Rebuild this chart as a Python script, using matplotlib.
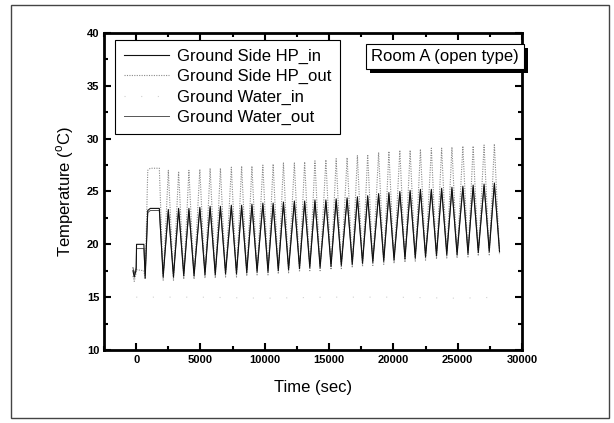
import matplotlib.pyplot as plt
import matplotlib.patheffects as pe
from matplotlib.patches import Rectangle
from matplotlib.ticker import MultipleLocator

plt.rcParams['font.family'] = ['Liberation Sans', 'DejaVu Sans']
plt.rcParams['mathtext.fontset'] = 'custom'
plt.rcParams['mathtext.rm'] = 'Liberation Sans'

# ---------------- data ----------------
# start-up segment (before the regular on/off cycling)
pre_t = [-250, -150, 0, 30, 600, 700, 900, 1100, 1800]
pre_hp_in = [17.5, 16.9, 17.6, 20.0, 20.0, 16.8, 23.2, 23.4, 23.4]
pre_hp_out = [17.0, 16.5, 17.3, 17.6, 17.5, 16.7, 27.0, 27.2, 27.2]
pre_gw_out = [17.8, 17.2, 17.8, 19.6, 19.6, 17.1, 23.0, 23.2, 23.2]

# cycle troughs / peaks
trough_t = [2100, 2900, 3700, 4500, 5350, 6150, 6950, 7800, 8600, 9400,
            10250, 11050, 11850, 12700, 13500, 14300, 15150, 15950, 16800,
            17600, 18400, 19250, 20050, 20900, 21700, 22500, 23350, 24150,
            24950, 25800, 26600, 27450, 28250]
peak_t = [2500, 3300, 4100, 4950, 5750, 6550, 7400, 8200, 9000, 9850,
          10650, 11450, 12300, 13100, 13900, 14750, 15550, 16400, 17200,
          18000, 18850, 19650, 20500, 21300, 22100, 22950, 23750, 24550,
          25400, 26200, 27050, 27850]

hp_in_trough = [16.9, 16.9, 17.0, 17.0, 17.1, 17.1, 17.2, 17.2, 17.3, 17.4,
                17.4, 17.5, 17.6, 17.7, 17.8, 17.8, 17.9, 18.0, 18.1, 18.2,
                18.3, 18.4, 18.5, 18.6, 18.7, 18.8, 18.9, 19.0, 19.0, 19.1,
                19.2, 19.3, 19.3]
hp_in_peak = [23.3, 23.4, 23.4, 23.5, 23.6, 23.6, 23.7, 23.7, 23.8, 23.9,
              23.9, 24.0, 24.1, 24.1, 24.2, 24.2, 24.3, 24.4, 24.5, 24.6,
              24.8, 24.9, 25.0, 25.1, 25.2, 25.2, 25.3, 25.4, 25.5, 25.6,
              25.7, 25.8]

hp_out_trough = [16.6, 16.6, 16.7, 16.7, 16.8, 16.8, 16.9, 16.9, 17.0, 17.1,
                 17.1, 17.2, 17.3, 17.4, 17.5, 17.5, 17.6, 17.7, 17.8, 17.9,
                 18.0, 18.1, 18.2, 18.3, 18.4, 18.5, 18.6, 18.7, 18.7, 18.8,
                 18.9, 19.0, 19.0]
hp_out_peak = [27.0, 26.9, 27.0, 27.1, 27.2, 27.2, 27.3, 27.4, 27.4, 27.5,
               27.6, 27.7, 27.7, 27.8, 27.9, 28.0, 28.1, 28.2, 28.4, 28.5,
               28.7, 28.8, 28.9, 28.9, 29.0, 29.1, 29.1, 29.2, 29.3, 29.3,
               29.4, 29.5]

gw_out_trough = [17.2, 17.2, 17.3, 17.3, 17.4, 17.4, 17.5, 17.5, 17.6, 17.7,
                 17.7, 17.8, 17.9, 18.0, 18.1, 18.1, 18.2, 18.3, 18.4, 18.5,
                 18.6, 18.7, 18.8, 18.9, 19.0, 19.1, 19.2, 19.3, 19.3, 19.4,
                 19.5, 19.6, 19.6]
gw_out_peak = [23.1, 23.2, 23.2, 23.3, 23.4, 23.4, 23.5, 23.5, 23.6, 23.7,
               23.7, 23.8, 23.9, 23.9, 24.0, 24.0, 24.1, 24.2, 24.3, 24.4,
               24.6, 24.7, 24.8, 24.9, 25.0, 25.0, 25.1, 25.2, 25.3, 25.4,
               25.5, 25.6]

gw_in_t = [0, 5000, 10000, 15000, 20000, 25000, 28500]
gw_in = [15.0, 15.0, 14.9, 15.0, 15.0, 14.9, 15.0]

labels = ["Ground Side HP_in", "Ground Side HP_out",
          "Ground Water_in", "Ground Water_out"]


def build(pre_y, troughs, peaks):
    xs = list(pre_t)
    ys = list(pre_y)
    for i in range(len(trough_t)):
        xs.append(trough_t[i])
        ys.append(troughs[i])
        if i < len(peak_t):
            xs.append(peak_t[i])
            ys.append(peaks[i])
    return xs, ys


# ---------------- figure ----------------
fig = plt.figure(figsize=(6.14, 4.23), dpi=100)
ax = fig.add_axes([0.1694, 0.1726, 0.6808, 0.7494])

# outer frame of the scanned figure
fig.patches.append(Rectangle((11 / 614, 5 / 423), 598 / 614, 413 / 423,
                             transform=fig.transFigure, fill=False,
                             edgecolor='#444444', linewidth=1.0))

x, y = build(pre_hp_out, hp_out_trough, hp_out_peak)
ax.plot(x, y, color='#8a8a8a', lw=0.8, linestyle=(0, (1, 1.2)), label=labels[1])
x, y = build(pre_gw_out, gw_out_trough, gw_out_peak)
ax.plot(x, y, color='#555555', lw=0.7, label=labels[3])
x, y = build(pre_hp_in, hp_in_trough, hp_in_peak)
ax.plot(x, y, color='#111111', lw=0.8, label=labels[0])
ax.plot(gw_in_t, gw_in, color='#d0d0d0', lw=0.8, linestyle=(0, (1, 14)),
        label=labels[2])

ax.set_xlim(-2500, 30000)
ax.set_ylim(10, 40)
ax.xaxis.set_major_locator(MultipleLocator(5000))
ax.xaxis.set_minor_locator(MultipleLocator(2500))
ax.yaxis.set_major_locator(MultipleLocator(5))
ax.yaxis.set_minor_locator(MultipleLocator(2.5))
ax.tick_params(which='both', direction='in', top=True, right=True, width=1.5)
ax.tick_params(which='major', length=5, labelsize=8)
ax.tick_params(which='minor', length=3)
for lab in ax.get_xticklabels() + ax.get_yticklabels():
    lab.set_fontweight('bold')
for s in ax.spines.values():
    s.set_linewidth(2)

ax.set_xlabel("Time (sec)", fontsize=12, labelpad=11)
ax.set_ylabel("Temperature ($^\\mathrm{o}$C)", fontsize=12, labelpad=8)

# legend in original order
h, l = ax.get_legend_handles_labels()
order = [l.index(n) for n in labels]
leg = ax.legend([h[i] for i in order], [l[i] for i in order],
                loc='upper left', bbox_to_anchor=(0.026, 0.978),
                borderaxespad=0, fontsize=12, handlelength=2.7,
                handletextpad=0.45, labelspacing=0.3, borderpad=0.55,
                fancybox=False, framealpha=1, edgecolor='black')
leg.get_frame().set_linewidth(0.8)

# annotation box with drop shadow
t = ax.text(0.816, 0.927, "Room A (open type)", transform=ax.transAxes,
            ha='center', va='center', fontsize=12, color='black',
            bbox=dict(boxstyle='square,pad=0.3', fc='white', ec='black', lw=0.8))
t.get_bbox_patch().set_path_effects([
    pe.SimplePatchShadow(offset=(3, -3), shadow_rgbFace='black', alpha=1.0),
    pe.Normal()])

fig.savefig("out.png", dpi=100)
